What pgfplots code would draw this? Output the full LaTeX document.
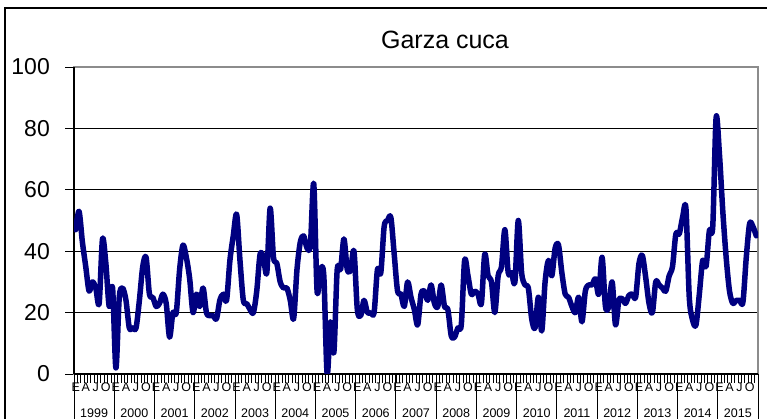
\documentclass[border=0pt]{standalone}
\usepackage{pgfplots}
\pgfplotsset{compat=1.18}
\usepackage{fontspec}
\setmainfont{Liberation Sans}
\definecolor{navyline}{HTML}{000080}
\definecolor{borderg}{HTML}{8C8C8C}
\begin{document}
\begin{tikzpicture}
\useasboundingbox (0pt,0pt) rectangle (767pt,419pt);
\draw[line width=2pt] (5pt,-10pt) -- (5pt,411pt) -- (790pt,411pt);
\node[font=\fontsize{25}{25}\selectfont] at (445pt,379pt) {Garza cuca};
\begin{axis}[
  at={(74pt,45pt)}, anchor=south west,
  width=684pt, height=307pt, scale only axis,
  xmin=-0.5, xmax=203.5, ymin=0, ymax=100,
  ytick={0,20,...,100},
  minor ytick={0,20,...,100},
  xtick={0,3,...,201},
  minor xtick={-0.5,0.5,...,203.5},
  xticklabels={E,A,J,O,E,A,J,O,E,A,J,O,E,A,J,O,E,A,J,O,E,A,J,O,E,A,J,O,E,A,J,O,E,A,J,O,E,A,J,O,E,A,J,O,E,A,J,O,E,A,J,O,E,A,J,O,E,A,J,O,E,A,J,O,E,A,J,O},
  tick align=outside, xtick pos=bottom, ytick pos=left,
  major tick length=0pt, minor tick length=9pt,
  minor tick style={black, line width=0.7pt},
  ymajorgrids, grid style={black, line width=0.9pt},
  axis line style={borderg, line width=1.6pt},
  /pgf/number format/assume math mode=true,
  yticklabel style={font=\fontsize{23}{23}\selectfont, anchor=east, inner sep=0pt, xshift=-24pt},
  xticklabel style={font=\fontsize{12.5}{12.5}\selectfont, anchor=center, inner sep=0pt, yshift=-13pt},
  clip mode=individual,
]
\draw[black, line width=1.6pt] (rel axis cs:0,0) -- (rel axis cs:0,1);
\draw[black, line width=1.2pt] (rel axis cs:0,0) -- (rel axis cs:1,0);
\pgfplotsinvokeforeach{0,...,17}{
  \draw[black, line width=0.8pt] (axis cs:{12*#1-0.5},0) -- ++(0pt,-50pt);
}
\pgfplotsinvokeforeach{0,...,16}{
  \node[font=\fontsize{12.5}{12.5}\selectfont, inner sep=0pt] at (axis cs:{12*#1+5.5},0) [yshift=-39.5pt] {\number\numexpr1999+#1\relax};
}
\addplot[navyline, line width=5.5pt, smooth, line join=round, line cap=round] coordinates {
(0,47) (1,53) (2,43) (3,35) (4,27) (5,30) (6,28) (7,23) (8,44) (9,36)
(10,22) (11,28) (12,2) (13,25) (14,28) (15,24) (16,15) (17,15) (18,15) (19,24)
(20,35) (21,38) (22,26) (23,25) (24,22) (25,23) (26,26) (27,23) (28,12) (29,20)
(30,20) (31,34) (32,42) (33,38) (34,31) (35,20) (36,26) (37,22) (38,28) (39,20)
(40,19) (41,19) (42,18) (43,24) (44,26) (45,24) (46,37) (47,45) (48,52) (49,37)
(50,24) (51,23) (52,21) (53,20) (54,27) (55,39) (56,38) (57,33) (58,54) (59,38)
(60,36) (61,30) (62,28) (63,28) (64,24) (65,18) (66,34) (67,43) (68,45) (69,41)
(70,42) (71,62) (72,27) (73,34) (74,32) (75,0) (76,17) (77,7) (78,34) (79,34)
(80,44) (81,34) (82,34) (83,40) (84,21) (85,19) (86,24) (87,20) (88,20) (89,20)
(90,34) (91,33) (92,48) (93,50) (94,51) (95,39) (96,27) (97,26) (98,22) (99,30)
(100,25) (101,21) (102,16) (103,26) (104,27) (105,24) (106,29) (107,23) (108,22) (109,29)
(110,22) (111,21) (112,12.5) (113,12) (114,15) (115,16) (116,37) (117,32) (118,26) (119,27)
(120,26) (121,23) (122,39) (123,32) (124,30) (125,20) (126,32) (127,35) (128,47) (129,33)
(130,33) (131,30) (132,50) (133,33) (134,29) (135,28) (136,18) (137,15) (138,25) (139,14)
(140,30) (141,37) (142,32) (143,41) (144,42) (145,33) (146,26) (147,25) (148,22) (149,20)
(150,25) (151,17) (152,27) (153,29) (154,29) (155,31) (156,26) (157,38) (158,22) (159,22)
(160,30) (161,16) (162,24) (163,24.5) (164,23) (165,25.6) (166,26) (167,25) (168,36) (169,38.6)
(170,31.5) (171,23) (172,20) (173,30) (174,29) (175,28) (176,27) (177,32) (178,35) (179,45.6)
(180,45.6) (181,51) (182,54) (183,25) (184,17.5) (185,16) (186,26) (187,37) (188,35) (189,46.7)
(190,48) (191,83.5) (192,71.6) (193,53) (194,38) (195,27) (196,23) (197,24) (198,24) (199,23.4)
(200,38) (201,49) (202,48) (203,45)
};
\end{axis}
\end{tikzpicture}
\end{document}
